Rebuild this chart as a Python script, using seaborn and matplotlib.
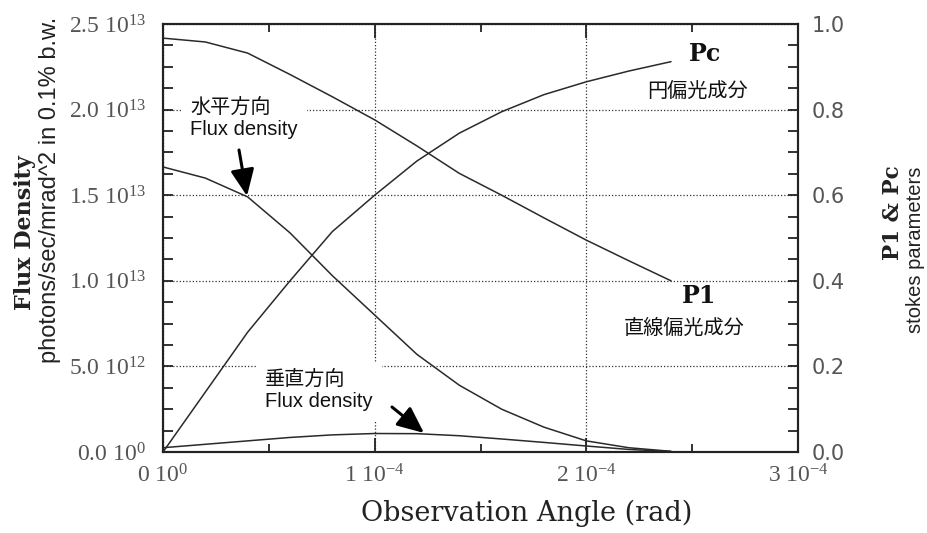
import numpy as np
import pandas as pd
import matplotlib
matplotlib.use("Agg")
import matplotlib.pyplot as plt
import seaborn as sns
from matplotlib.ticker import MultipleLocator

# ---------------- data ----------------
angle_e4 = [0.0, 0.2, 0.4, 0.6, 0.8, 1.0, 1.2, 1.4, 1.6, 1.8, 2.0, 2.2, 2.4]      # x 1e-4 rad
flux_horizontal_e13 = [1.665, 1.60, 1.49, 1.28, 1.03, 0.80, 0.57, 0.39, 0.25, 0.145, 0.065, 0.025, 0.004]
flux_vertical_e13 = [0.025, 0.045, 0.065, 0.085, 0.100, 0.108, 0.107, 0.095, 0.076, 0.056, 0.035, 0.015, 0.003]
pl_values = [0.967, 0.958, 0.932, 0.882, 0.830, 0.776, 0.715, 0.651, 0.600, 0.547, 0.495, 0.447, 0.400]
pc_values = [0.0, 0.14, 0.28, 0.40, 0.515, 0.60, 0.68, 0.745, 0.795, 0.835, 0.865, 0.89, 0.912]

x_ticks = [0.0, 1e-4, 2e-4, 3e-4]
x_tick_labels = [r"0 $\mathrm{10^{0}}$", r"1 $\mathrm{10^{-4}}$", r"2 $\mathrm{10^{-4}}$", r"3 $\mathrm{10^{-4}}$"]
y_left_ticks = [0.0, 5e12, 1.0e13, 1.5e13, 2.0e13, 2.5e13]
y_left_labels = [r"0.0 $\mathrm{10^{0}}$", r"5.0 $\mathrm{10^{12}}$", r"1.0 $\mathrm{10^{13}}$",
                 r"1.5 $\mathrm{10^{13}}$", r"2.0 $\mathrm{10^{13}}$", r"2.5 $\mathrm{10^{13}}$"]
y_right_ticks = [0.0, 0.2, 0.4, 0.6, 0.8, 1.0]
y_right_labels = ["0.0", "0.2", "0.4", "0.6", "0.8", "1.0"]

angle = np.array(angle_e4) * 1e-4
df = pd.DataFrame({
    "angle": angle,
    "flux_h": np.array(flux_horizontal_e13) * 1e13,
    "flux_v": np.array(flux_vertical_e13) * 1e13,
    "pl": pl_values,
    "pc": pc_values,
})

# ---------------- style ----------------
sns.set_style("ticks")
plt.rcParams["font.family"] = ["Liberation Sans", "Noto Sans CJK JP"]
plt.rcParams["mathtext.fontset"] = "custom"
plt.rcParams["mathtext.rm"] = "Liberation Serif"
plt.rcParams["mathtext.it"] = "Liberation Serif:italic"
plt.rcParams["mathtext.bf"] = "Liberation Serif:bold"

LINE = "#2a2a2a"
TICKC = "#555555"
W, H = 928, 533
L, R, T, B = 163, 798, 24, 452

fig = plt.figure(figsize=(W / 100, H / 100), dpi=100)
ax = fig.add_axes([L / W, (H - B) / H, (R - L) / W, (B - T) / H])
ax2 = ax.twinx()

sns.lineplot(data=df, x="angle", y="flux_h", ax=ax, color=LINE, lw=1.1)
sns.lineplot(data=df, x="angle", y="flux_v", ax=ax, color=LINE, lw=1.1)
sns.lineplot(data=df, x="angle", y="pl", ax=ax2, color=LINE, lw=1.1)
sns.lineplot(data=df, x="angle", y="pc", ax=ax2, color=LINE, lw=1.1)

ax.set_xlim(0, 3e-4)
ax.set_ylim(0, 2.5e13)
ax2.set_ylim(0, 1.0)
ax.set_xlabel("")
ax.set_ylabel("")
ax2.set_ylabel("")

ax.set_xticks(x_ticks, x_tick_labels, fontfamily="Liberation Serif", fontsize=17, color=TICKC)
ax.set_yticks(y_left_ticks, y_left_labels, fontfamily="Liberation Serif", fontsize=17, color=TICKC)
ax2.set_yticks(y_right_ticks, y_right_labels, fontfamily="DejaVu Sans", fontsize=15, color=TICKC)
ax.xaxis.set_minor_locator(MultipleLocator(0.5e-4))
ax.yaxis.set_minor_locator(MultipleLocator(0.125e13))
ax2.yaxis.set_minor_locator(MultipleLocator(0.05))

ax.tick_params(axis="x", which="both", direction="in", top=True, bottom=True, color="#222", width=1.3, pad=9)
ax.tick_params(axis="x", which="major", length=10)
ax.tick_params(axis="x", which="minor", length=6)
ax.tick_params(axis="y", which="both", direction="in", left=True, right=False, color="#222", width=1.3, length=7, pad=12)
ax2.tick_params(axis="y", which="both", direction="in", right=True, left=False, color="#222", width=1.3, length=7, pad=10)

for a in (ax, ax2):
    for s in a.spines.values():
        s.set_linewidth(1.5)
        s.set_color("#222")
        s.set_visible(True)

ax.grid(True, which="major", linestyle=(0, (1, 1.6)), color="#333333", lw=0.9)

# ---------------- labels ----------------
fig.text(527 / W, 1 - 513 / H, "Observation Angle (rad)", family="DejaVu Serif",
         fontsize=19.5, ha="center", va="center", color="#222")
fig.text(25 / W, 1 - 233 / H, "Flux Density", family="DejaVu Serif", weight="bold",
         fontsize=16, rotation=90, ha="center", va="center", color="#222")
fig.text(50 / W, 1 - 190 / H, "photons/sec/mrad^2 in 0.1% b.w.", family="Liberation Sans",
         fontsize=17, rotation=90, ha="center", va="center", color="#222")
fig.text(893 / W, 1 - 213 / H, "P1 & Pc", family="DejaVu Serif", weight="bold",
         fontsize=15.5, rotation=90, ha="center", va="center", color="#222")
fig.text(916 / W, 1 - 250 / H, "stokes parameters", family="Liberation Sans",
         fontsize=14.5, rotation=90, ha="center", va="center", color="#222")


def fx(px):
    return (px - L) / (R - L)


def fy(py):
    return (B - py) / (B - T)


cjk = ["Liberation Sans", "Noto Sans CJK JP"]
box = dict(boxstyle="square,pad=0.45", fc="white", ec="none")

ax2.text(fx(705), fy(54), "Pc", transform=ax2.transAxes, family="DejaVu Serif", weight="bold",
         fontsize=17, ha="center", va="center", color="#111")
ax2.text(fx(697), fy(91), "円偏光成分", transform=ax2.transAxes, family=cjk, fontsize=14.5,
         ha="center", va="center", color="#111")
ax2.text(fx(699), fy(296), "P1", transform=ax2.transAxes, family="DejaVu Serif", weight="bold",
         fontsize=17, ha="center", va="center", color="#111")
ax2.text(fx(684), fy(328), "直線偏光成分", transform=ax2.transAxes, family=cjk, fontsize=14.5,
         ha="center", va="center", color="#111")
ax2.text(fx(190), fy(99), "水平方向\nFlux density", transform=ax2.transAxes, family=cjk, fontsize=14.5,
         ha="left", va="top", color="#111", linespacing=1.15, bbox=box)
ax2.text(fx(265), fy(371), "垂直方向\nFlux density", transform=ax2.transAxes, family=cjk, fontsize=14.5,
         ha="left", va="top", color="#111", linespacing=1.15, bbox=box)

arrow = dict(arrowstyle="-|>,head_length=0.9,head_width=0.4", color="black", lw=2.2,
             mutation_scale=18, shrinkA=0, shrinkB=0)
ax2.annotate("", xy=(fx(247), fy(196)), xytext=(fx(239), fy(150)), xycoords="axes fraction",
             textcoords="axes fraction", arrowprops=arrow)
ax2.annotate("", xy=(fx(424), fy(433)), xytext=(fx(392), fy(407)), xycoords="axes fraction",
             textcoords="axes fraction", arrowprops=arrow)

fig.savefig("out.png", dpi=100)
